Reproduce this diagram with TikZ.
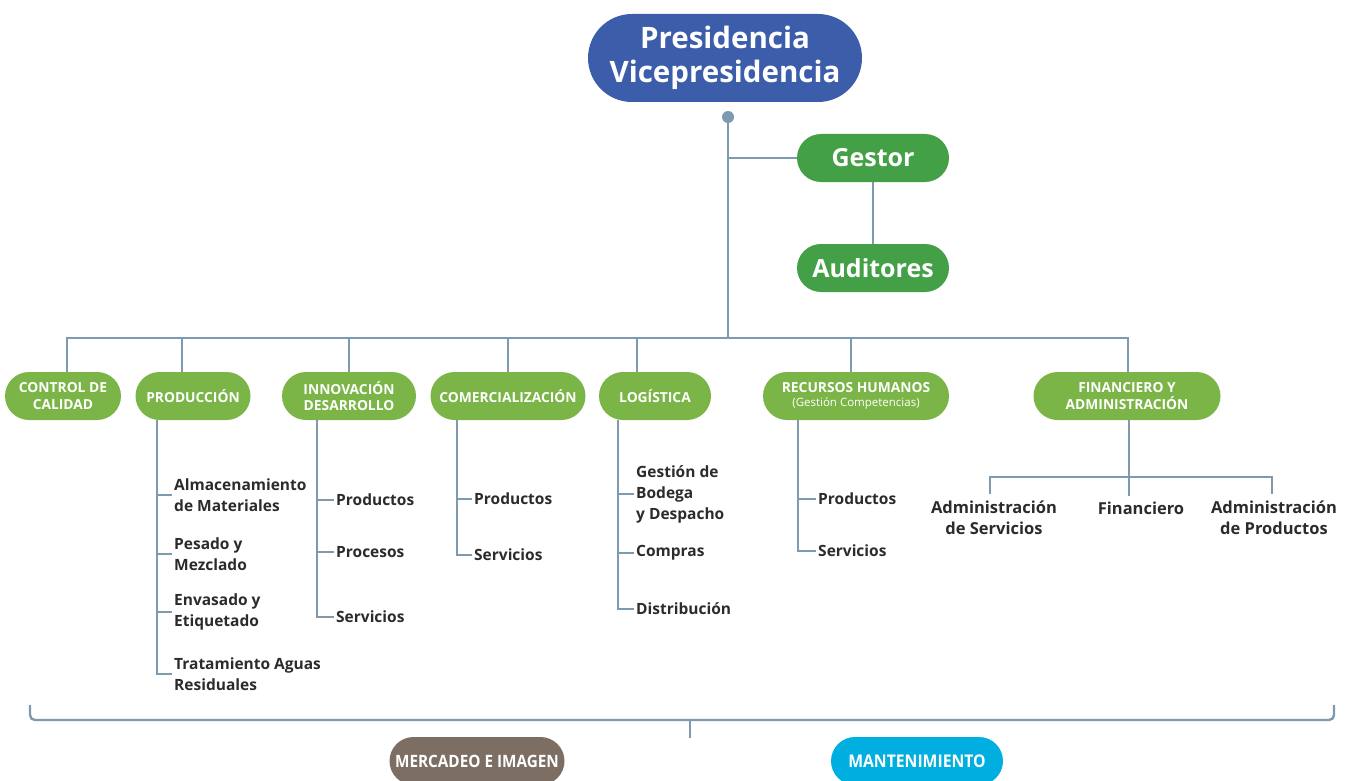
\documentclass[tikz,border=0pt]{standalone}
\usepackage{fontspec}
\setmainfont{Open Sans}
\newfontfamily\condfont[FakeStretch=0.9]{Open Sans}
\definecolor{cblue}{HTML}{3C5DAA}
\definecolor{cdgreen}{HTML}{44A047}
\definecolor{clgreen}{HTML}{7BB547}
\definecolor{cline}{HTML}{7D9AAF}
\definecolor{cbrown}{HTML}{7D6E63}
\definecolor{ccyan}{HTML}{00AEDF}
\definecolor{ctext}{HTML}{2B2B2B}
\begin{document}
\begin{tikzpicture}[x=1pt,y=-1pt,
  conn/.style={draw=cline,line width=2.8pt},
  pill/.style={text=white,align=center,inner sep=0pt,rounded corners=24pt,minimum height=48pt},
  dept/.style={pill,fill=clgreen,font=\fontsize{13.8}{16.5}\selectfont\bfseries},
  item/.style={anchor=west,inner sep=2pt,align=left,text=ctext,font=\fontsize{15.5}{21}\selectfont\bfseries},
  citem/.style={inner sep=2pt,align=center,text=ctext,font=\fontsize{16.5}{21}\selectfont\bfseries}]
\useasboundingbox (0,0) rectangle (1354,781);
\clip (0,0) rectangle (1354,781);

% top
\node[pill,fill=cblue,minimum width=274pt,minimum height=88pt,rounded corners=44pt,
  font=\fontsize{29.5}{34}\selectfont\bfseries] (pres) at (725,58) {Presidencia\\Vicepresidencia};
\node[circle,fill=cline,minimum size=12pt,inner sep=0pt] (dot) at (728,117) {};
\coordinate (bar) at (728,338);
\node[pill,fill=cdgreen,minimum width=152pt,font=\fontsize{25}{28}\selectfont\bfseries] (gestor) at (873,158) {Gestor};
\node[pill,fill=cdgreen,minimum width=152pt,font=\fontsize{25}{28}\selectfont\bfseries] (aud) at (873,268) {Auditores};
\draw[conn] (dot.center) -- (bar);
\draw[conn] (dot |- gestor.west) -- (gestor.west);
\draw[conn] (gestor) -- (aud);

% departments
\node[dept,minimum width=116pt] (cc) at (63,396) {CONTROL DE\\CALIDAD};
\node[dept,minimum width=115pt] (prod) at (193,396) {PRODUCCIÓN};
\node[dept,minimum width=134pt] (inno) at (349,396) {INNOVACIÓN\\DESARROLLO};
\node[dept,minimum width=155pt] (com) at (508,396) {COMERCIALIZACIÓN};
\node[dept,minimum width=112pt] (log) at (655,396) {LOGÍSTICA};
\node[dept,minimum width=186pt] (rh) at (856,396) {RECURSOS HUMANOS\\[-3pt]{\fontsize{11.5}{13}\selectfont\mdseries(Gestión Competencias)}};
\node[dept,minimum width=187pt] (fin) at (1127,396) {FINANCIERO Y\\ADMINISTRACIÓN};

\coordinate (dcc) at (67,372);
\coordinate (dprod) at (182,372);
\coordinate (dinno) at (349,372);
\coordinate (dcom) at (508,372);
\coordinate (dlog) at (637,372);
\coordinate (drh) at (851,372);
\coordinate (dfin) at (1128,372);
\draw[conn] (dcc) |- (bar) -| (dfin);
\foreach \d in {dprod,dinno,dcom,dlog,drh}{\draw[conn] (\d) -- (\d |- bar);}

% produccion
\coordinate (pv) at (157,420);
\node[item] (p1) at (172,495) {Almacenamiento\\de Materiales};
\node[item] (p2) at (172,554) {Pesado y\\Mezclado};
\node[item] (p3) at (172,612) {Envasado y\\Etiquetado};
\node[item] (p4) at (172,674) {Tratamiento Aguas\\Residuales};
\draw[conn] (pv) |- (p4.west);
\foreach \n in {p1,p2,p3}{\draw[conn] (pv |- \n.west) -- (\n.west);}

% innovacion
\coordinate (iv) at (317,420);
\node[item] (i1) at (334,500) {Productos};
\node[item] (i2) at (334,552) {Procesos};
\node[item] (i3) at (334,617) {Servicios};
\draw[conn] (iv) |- (i3.west);
\foreach \n in {i1,i2}{\draw[conn] (iv |- \n.west) -- (\n.west);}

% comercializacion
\coordinate (cv) at (457,420);
\node[item] (c1) at (472,499) {Productos};
\node[item] (c2) at (472,555) {Servicios};
\draw[conn] (cv) |- (c2.west);
\draw[conn] (cv |- c1.west) -- (c1.west);

% logistica
\coordinate (lv) at (618,420);
\node[item] (l1) at (634,494) {Gestión de\\Bodega\\y Despacho};
\node[item] (l2) at (634,553) {Compras};
\node[item] (l3) at (634,609) {Distribución};
\draw[conn] (lv) |- (l3.west);
\foreach \n in {l1,l2}{\draw[conn] (lv |- \n.west) -- (\n.west);}

% recursos humanos
\coordinate (rv) at (798,420);
\node[item] (r1) at (816,499) {Productos};
\node[item] (r2) at (816,551) {Servicios};
\draw[conn] (rv) |- (r2.west);
\draw[conn] (rv |- r1.west) -- (r1.west);

% financiero
\coordinate (fv) at (1129,420);
\coordinate (fs) at (1129,477);
\node[citem] (f1) at (994,518) {Administración\\de Servicios};
\node[citem] (f2) at (1141,508) {Financiero};
\node[citem] (f3) at (1274,518) {Administración\\de Productos};
\coordinate (f1t) at (990,494);
\coordinate (f2t) at (1129,496);
\coordinate (f3t) at (1272,494);
\draw[conn] (fv) -- (f2t);
\draw[conn] (f1t) |- (fs) -| (f3t);

% bottom brace
\coordinate (bl) at (30,705);
\coordinate (br) at (1334,705);
\coordinate (bm) at (690,720);
\coordinate (bmt) at (690,738);
\draw[conn,line width=2.4pt,rounded corners=5pt] (bl) |- (bm) -| (br);
\draw[conn,line width=2.4pt] (bm) -- (bmt);

\node[pill,fill=cbrown,minimum width=175pt,font=\condfont\fontsize{17}{19}\selectfont\bfseries] (merc) at (477,761) {MERCADEO E IMAGEN};
\node[pill,fill=ccyan,minimum width=172pt,font=\condfont\fontsize{17.5}{19}\selectfont\bfseries] (mant) at (917,761) {MANTENIMIENTO};
\end{tikzpicture}
\end{document}
